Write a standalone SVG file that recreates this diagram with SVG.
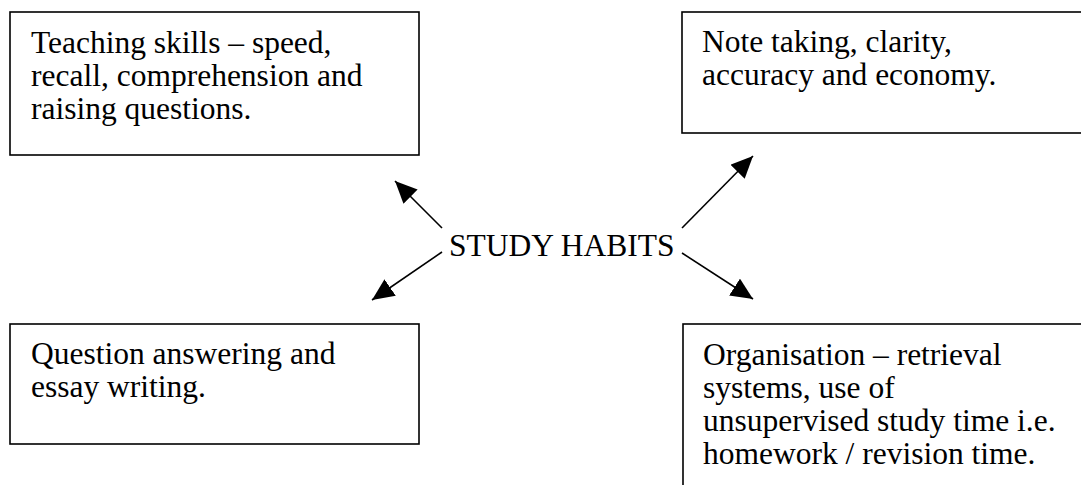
<svg xmlns="http://www.w3.org/2000/svg" width="1081" height="485" viewBox="0 0 1081 485">
<style>
.box{fill:#fff;stroke:#000;stroke-width:1.6}
.t{font-family:"Liberation Serif","Times New Roman",serif;font-size:31.5px;fill:#000}
.c{stroke:#000;stroke-width:1.6;fill:none;marker-end:url(#ah)}
</style>
<defs>
<marker id="ah" markerUnits="userSpaceOnUse" markerWidth="24" markerHeight="22" refX="22" refY="10" orient="auto">
<path d="M0,0 L22,10 L0,20 z" fill="#000"/>
</marker>
</defs>
<rect width="1081" height="485" fill="#fff"/>
<g id="teaching">
<rect class="box" x="10" y="12" width="409" height="143"/>
<text class="t" x="31" y="53">Teaching skills – speed,</text>
<text class="t" x="31" y="86">recall, comprehension and</text>
<text class="t" x="31" y="119">raising questions.</text>
</g>
<g id="note">
<rect class="box" x="682" y="12" width="410" height="121"/>
<text class="t" x="702" y="52">Note taking, clarity,</text>
<text class="t" x="702" y="85">accuracy and economy.</text>
</g>
<g id="question">
<rect class="box" x="10" y="324" width="409" height="120"/>
<text class="t" x="31" y="364">Question answering and</text>
<text class="t" x="31" y="397">essay writing.</text>
</g>
<g id="organisation">
<rect class="box" x="683" y="324" width="410" height="180"/>
<text class="t" x="703" y="365">Organisation – retrieval</text>
<text class="t" x="703" y="398">systems, use of</text>
<text class="t" x="703" y="431">unsupervised study time i.e.</text>
<text class="t" x="703" y="464">homework / revision time.</text>
</g>
<g id="center">
<text class="t" x="449" y="256">STUDY HABITS</text>
</g>
<g id="connectors">
<line class="c" x1="442" y1="228" x2="395" y2="181"/>
<line class="c" x1="442" y1="252" x2="372" y2="300"/>
<line class="c" x1="682" y1="228" x2="753" y2="156"/>
<line class="c" x1="682" y1="253" x2="753" y2="299"/>
</g>
</svg>
